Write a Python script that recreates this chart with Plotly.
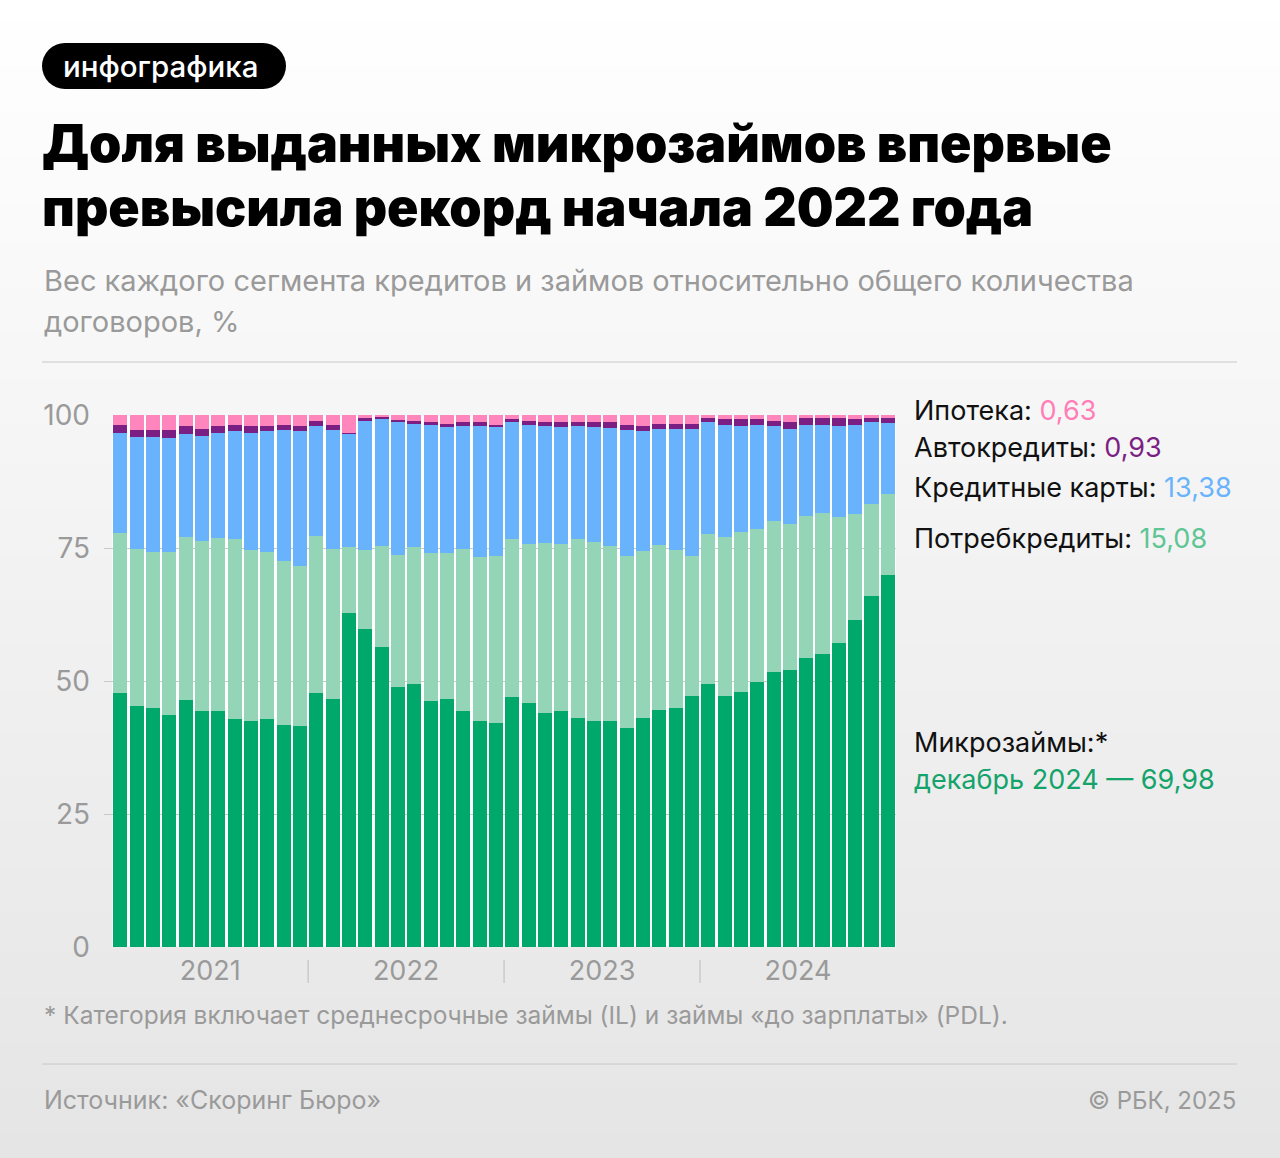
import base64
import struct
import zlib

import plotly.graph_objects as go

W, H = 1280, 1158

# ---------------- data ----------------
months = list(range(48))  # Jan 2021 .. Dec 2024
year_labels = ["2021", "2022", "2023", "2024"]
year_ticks = [5.5, 17.5, 29.5, 41.5]
year_separators = [11.5, 23.5, 35.5]

microloans = [47.7, 45.3, 45.0, 43.7, 46.4, 44.4, 44.4, 42.8, 42.4, 42.8, 41.7, 41.5,
              47.7, 46.6, 62.8, 59.8, 56.4, 48.9, 49.4, 46.3, 46.6, 44.4, 42.4, 42.2,
              47.0, 45.9, 43.9, 44.4, 43.1, 42.5, 42.5, 41.1, 43.1, 44.5, 45.0, 47.2,
              49.4, 47.2, 47.9, 49.9, 51.6, 52.1, 54.3, 55.1, 57.1, 61.5, 66.0, 69.98]
consumer = [30.2, 29.5, 29.2, 30.5, 30.6, 32.0, 32.4, 33.8, 32.2, 31.4, 30.9, 30.1,
            29.6, 28.3, 12.3, 14.8, 18.9, 24.8, 25.7, 27.7, 27.4, 30.4, 30.9, 31.3,
            29.6, 29.9, 32.0, 31.4, 33.5, 33.6, 32.8, 32.4, 31.3, 31.0, 29.6, 26.3,
            28.2, 29.8, 30.2, 28.6, 28.5, 27.4, 26.8, 26.4, 23.7, 19.9, 17.3, 15.08]
cards = [18.8, 21.1, 21.7, 21.5, 19.5, 19.7, 19.9, 20.4, 22.1, 22.8, 24.6, 25.4,
         20.6, 22.3, 21.4, 24.3, 23.9, 24.9, 23.2, 24.1, 23.7, 23.1, 24.6, 24.2,
         22.0, 22.3, 22.0, 22.0, 21.3, 21.6, 22.2, 23.7, 22.6, 21.9, 22.8, 23.9,
         21.0, 21.1, 19.8, 19.6, 17.8, 17.9, 17.0, 16.6, 17.1, 16.7, 15.3, 13.38]
auto = [1.4, 1.3, 1.3, 1.5, 1.4, 1.3, 1.2, 1.1, 1.2, 0.9, 0.9, 0.9,
        0.9, 0.9, 0.2, 0.5, 0.5, 0.5, 0.6, 0.6, 0.6, 0.7, 0.7, 0.4,
        0.6, 0.7, 0.7, 0.9, 0.7, 0.9, 1.2, 0.9, 0.9, 0.9, 0.9, 0.9,
        0.9, 1.1, 1.3, 1.1, 1.0, 1.2, 1.3, 1.3, 1.5, 1.1, 0.8, 0.93]
mortgage = [1.9, 2.8, 2.8, 2.8, 2.1, 2.6, 2.1, 1.9, 2.1, 2.1, 1.9, 2.1,
            1.2, 1.9, 3.3, 0.6, 0.3, 0.9, 1.1, 1.4, 1.7, 1.4, 1.4, 1.9,
            0.8, 1.3, 1.4, 1.4, 1.4, 1.4, 1.4, 1.9, 2.1, 1.7, 1.7, 1.7,
            0.5, 0.8, 0.8, 0.8, 1.1, 1.4, 0.6, 0.6, 0.6, 0.8, 0.6, 0.63]

series_names = ["Микрозаймы", "Потребкредиты", "Кредитные карты", "Автокредиты", "Ипотека"]
series_values = [microloans, consumer, cards, auto, mortgage]
series_colors = ["#00a86b", "#93d5b6", "#69b3fc", "#7c1f84", "#ff86bd"]

FONT = "Inter"
GRAY = "#9a9a9a"


def px(x):
    return x / W


def py(y):
    return 1 - y / H


# ---------------- background gradient (PNG data URI) ----------------
def gradient_png(top, bottom, h=256):
    rows = []
    for i in range(h):
        t = i / (h - 1)
        c = bytes(int(round(top[k] + (bottom[k] - top[k]) * t)) for k in range(3))
        rows.append(b"\x00" + c)
    raw = b"".join(rows)

    def chunk(tag, data):
        return (struct.pack(">I", len(data)) + tag + data
                + struct.pack(">I", zlib.crc32(tag + data) & 0xFFFFFFFF))

    png = (b"\x89PNG\r\n\x1a\n"
           + chunk(b"IHDR", struct.pack(">IIBBBBB", 1, h, 8, 2, 0, 0, 0))
           + chunk(b"IDAT", zlib.compress(raw))
           + chunk(b"IEND", b""))
    return "data:image/png;base64," + base64.b64encode(png).decode()


bg = gradient_png((255, 255, 255), (229, 229, 229))

# ---------------- figure ----------------
fig = go.Figure()
for name, vals, col in zip(series_names, series_values, series_colors):
    fig.add_trace(go.Bar(x=months, y=vals, name=name, marker_color=col,
                         marker_line_width=0, hoverinfo="skip"))

fig.update_layout(
    width=W, height=H,
    margin=dict(l=0, r=0, t=0, b=0, pad=0, autoexpand=False),
    barmode="stack", bargap=0.14,
    showlegend=False,
    paper_bgcolor="#ececec",
    plot_bgcolor="rgba(0,0,0,0)",
    font=dict(family=FONT, color="#111111"),
    images=[dict(source=bg, xref="paper", yref="paper", x=0, y=1, sizex=1, sizey=1,
                 sizing="stretch", xanchor="left", yanchor="top", layer="below")],
    xaxis=dict(domain=[px(104), px(896)], range=[-1, 47.5], showgrid=False,
               automargin=False,
               zeroline=False, showline=False, ticks="",
               tickmode="array", tickvals=year_ticks, ticktext=year_labels,
               tickfont=dict(size=27, color=GRAY, family=FONT),
               ticklabelstandoff=5),
    yaxis=dict(domain=[py(947), py(415)], range=[0, 100], tickvals=[0, 25, 50, 75, 100],
               automargin=False,
               showgrid=True, gridcolor="#c9c9c9", gridwidth=1, zeroline=False,
               showline=False, ticks="", tickfont=dict(size=28, color=GRAY, family=FONT),
               ticklabelstandoff=13),
)

shapes = []
# white backing behind bars (gaps appear white)
shapes.append(dict(type="rect", xref="x", yref="y", x0=-0.5, x1=47.5, y0=0, y1=100,
                   fillcolor="#ffffff", line_width=0, layer="below"))
# year separators
for s in year_separators:
    shapes.append(dict(type="line", xref="x", yref="paper", x0=s, x1=s,
                       y0=py(960), y1=py(983), line=dict(color="#c4c4c4", width=1.2)))
# horizontal rules
for yy in (362, 1064):
    shapes.append(dict(type="line", xref="paper", yref="paper", x0=px(42), x1=px(1237),
                       y0=py(yy), y1=py(yy), line=dict(color="#c8c8c8", width=1)))
# pill
shapes.append(dict(type="rect", xref="paper", yref="paper", x0=px(65), x1=px(263),
                   y0=py(89), y1=py(43), fillcolor="#000000", line_width=0))
for cx in (65, 263):
    shapes.append(dict(type="circle", xref="paper", yref="paper", x0=px(cx - 23),
                       x1=px(cx + 23), y0=py(89), y1=py(43), fillcolor="#000000",
                       line_width=0))
fig.update_layout(shapes=shapes)


def ann(text, x, y, size, color="#111111", xanchor="left", weight=None):
    f = dict(size=size, color=color, family=FONT)
    if weight:
        f["weight"] = weight
    fig.add_annotation(text=text, x=px(x), y=py(y), xref="paper", yref="paper",
                       xanchor=xanchor, yanchor="middle", showarrow=False, font=f,
                       align=xanchor if xanchor != "center" else "center")


ann("инфографика", 160, 66, 29.5, "#ffffff", "center", weight=500)
ann("Доля выданных микрозаймов впервые", 40, 143, 51.8, "#000000", weight=900)
ann("превысила рекорд начала 2022 года", 40, 207, 51.8, "#000000", weight=900)
ann("Вес каждого сегмента кредитов и займов относительно общего количества", 42, 280, 29, GRAY)
ann("договоров, %", 42, 321, 29, GRAY)

ann("Ипотека: <span style='color:#ff7eb6'>0,63</span>", 912, 410, 27)
ann("Автокредиты: <span style='color:#7c1f84'>0,93</span>", 912, 448, 27)
ann("Кредитные карты: <span style='color:#69b3fc'>13,38</span>", 912, 487, 27)
ann("Потребкредиты: <span style='color:#5ec594'>15,08</span>", 912, 538, 27)
ann("Микрозаймы:*", 912, 742, 27)
ann("декабрь 2024 — 69,98", 912, 779, 27, "#14a36b")

ann("* Категория включает среднесрочные займы (IL) и займы «до зарплаты» (PDL).",
    42, 1015, 24.5, GRAY)
ann("Источник: «Скоринг Бюро»", 42, 1100, 25, GRAY)
ann("© РБК, 2025", 1238, 1100, 24, GRAY, "right")

fig.write_html("out.html")
